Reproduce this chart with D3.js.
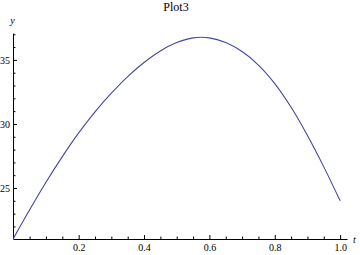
<!DOCTYPE html>
<html>
<head>
<meta charset="utf-8">
<script src="https://cdn.jsdelivr.net/npm/d3@7"></script>
<style>
    body { margin: 0; background: #fff; }
    svg { display: block; }
    .tick text { font-family: "Liberation Serif", "DejaVu Serif", serif; font-size: 10px; fill: #000; }
</style>
</head>
<body>
<svg id="chart" width="360" height="255"></svg>
<script>
// values
let chartTitle = "Plot3";
let tValues = [0, 0.05, 0.10, 0.15, 0.20, 0.25, 0.30, 0.35, 0.40, 0.45, 0.50,
               0.55, 0.60, 0.65, 0.70, 0.75, 0.80, 0.85, 0.90, 0.95, 1.00];
let yValues = [21.05, 23.3, 25.45, 27.45, 29.3, 30.95, 32.4, 33.7, 34.8, 35.7, 36.35,
               36.72, 36.72, 36.35, 35.65, 34.6, 33.15, 31.3, 29.1, 26.65, 24.0];
let xMajorTicks = [0.2, 0.4, 0.6, 0.8, 1.0];
let xMinorTicks = [0.05, 0.1, 0.15, 0.25, 0.3, 0.35, 0.45, 0.5, 0.55, 0.65, 0.7, 0.75, 0.85, 0.9, 0.95];
let yMajorTicks = [25, 30, 35];
let yMinorTicks = [22, 23, 24, 26, 27, 28, 29, 31, 32, 33, 34, 36, 37];

let svg = d3.select("#chart");

// scales
let xScale = d3.scaleLinear().domain([0, 1.021]).range([13.3, 347]);
let yScale = d3.scaleLinear().domain([21.02, 37.1]).range([239, 33]);

let fmtX = d3.format(".1f");

// x axis: minor ticks first, then labelled majors (ticks point inward)
svg.append("g")
    .attr("transform", "translate(0,239)")
    .call(d3.axisBottom(xScale).tickValues(xMinorTicks).tickSize(-2.5).tickSizeOuter(0).tickFormat(""))
    .call(g => g.select(".domain").attr("stroke", "#000"));

svg.append("g")
    .attr("transform", "translate(0,239)")
    .call(d3.axisBottom(xScale).tickValues(xMajorTicks).tickSize(-4).tickSizeOuter(0)
        .tickPadding(5).tickFormat(fmtX))
    .call(g => g.select(".domain").remove());

// y axis
svg.append("g")
    .attr("transform", "translate(13,0)")
    .call(d3.axisLeft(yScale).tickValues(yMinorTicks).tickSize(-2.5).tickSizeOuter(0).tickFormat(""))
    .call(g => g.select(".domain").attr("stroke", "#000"));

svg.append("g")
    .attr("transform", "translate(13,0)")
    .call(d3.axisLeft(yScale).tickValues(yMajorTicks).tickSize(-4).tickSizeOuter(0).tickPadding(3))
    .call(g => g.select(".domain").remove());

// the curve
let line = d3.line()
    .x(function (d, i) { return xScale(tValues[i]); })
    .y(function (d) { return yScale(d); })
    .curve(d3.curveCatmullRom);

svg.append("path")
    .datum(yValues)
    .attr("d", line)
    .attr("fill", "none")
    .attr("stroke", "#4646a3")
    .attr("stroke-width", 1.1);

// title and axis labels
svg.append("text")
    .attr("x", 176)
    .attr("y", 11)
    .attr("text-anchor", "middle")
    .style("font-family", "Liberation Serif, serif")
    .style("font-size", "12px")
    .text(chartTitle);

svg.append("text")
    .attr("x", 12.5)
    .attr("y", 24)
    .attr("text-anchor", "middle")
    .style("font-family", "Liberation Serif, serif")
    .style("font-style", "italic")
    .style("font-size", "10px")
    .text("y");

svg.append("text")
    .attr("x", 353)
    .attr("y", 243)
    .style("font-family", "Liberation Serif, serif")
    .style("font-style", "italic")
    .style("font-size", "10px")
    .text("t");
</script>
</body>
</html>
